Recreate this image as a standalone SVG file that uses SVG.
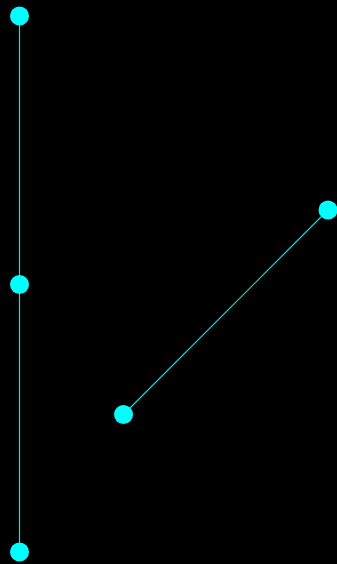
<svg xmlns="http://www.w3.org/2000/svg" width="337" height="564" viewBox="0 0 337 564">
<style>
.edge{stroke:#00e5e5;stroke-width:1.2;fill:none}
.node{fill:#00ffff}
</style>
<rect width="337" height="564" fill="#000"/>
<g id="connectors">
<line class="edge" x1="19.5" y1="16" x2="19.5" y2="284.5"/>
<line class="edge" x1="19.5" y1="284.5" x2="19.5" y2="552"/>
<line class="edge" x1="123.5" y1="414.5" x2="328" y2="210"/>
</g>
<g id="n1"><circle class="node" cx="19.5" cy="16" r="9.5"/></g>
<g id="n2"><circle class="node" cx="19.5" cy="284.5" r="9.5"/></g>
<g id="n3"><circle class="node" cx="19.5" cy="552" r="9.5"/></g>
<g id="n4"><circle class="node" cx="123.5" cy="414.5" r="9.5"/></g>
<g id="n5"><circle class="node" cx="328" cy="210" r="9.5"/></g>
</svg>
